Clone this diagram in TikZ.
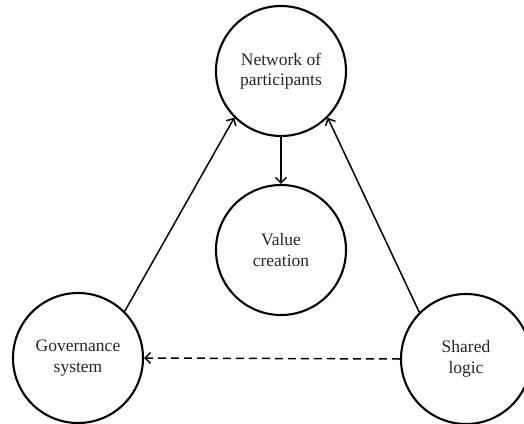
\documentclass[tikz,border=0pt]{standalone}
\usepackage{fontspec}
\setmainfont{Liberation Serif}
\usetikzlibrary{arrows.meta}
\begin{document}
\begin{tikzpicture}[x=1pt,y=-1pt,
  circ/.style={draw=black, line width=2.1pt, circle, minimum size=130pt, inner sep=0pt, align=center, font=\fontsize{17.5}{20.5}\selectfont, text=black!85},
  conn/.style={line width=1.5pt, -{Straight Barb[length=5.5pt,width=11pt,line width=1.5pt]}},
  dconn/.style={conn, dash pattern=on 8pt off 5pt}]
\useasboundingbox (0,0) rectangle (524,423);
\node[circ] (net) at (281,71) {Network of\\participants};
\node[circ] (val) at (281,250) {Value\\creation};
\node[circ] (gov) at (78,358) {Governance\\system};
\node[circ] (shl) at (466,359) {Shared\\logic};
\draw[conn] (net.south) -- (val.north);
\draw[conn] (gov.north east) -- (net.south west);
\draw[conn] (shl.north west) -- (net.south east);
\draw[dconn] (shl.west) -- (gov.east);
\end{tikzpicture}
\end{document}
